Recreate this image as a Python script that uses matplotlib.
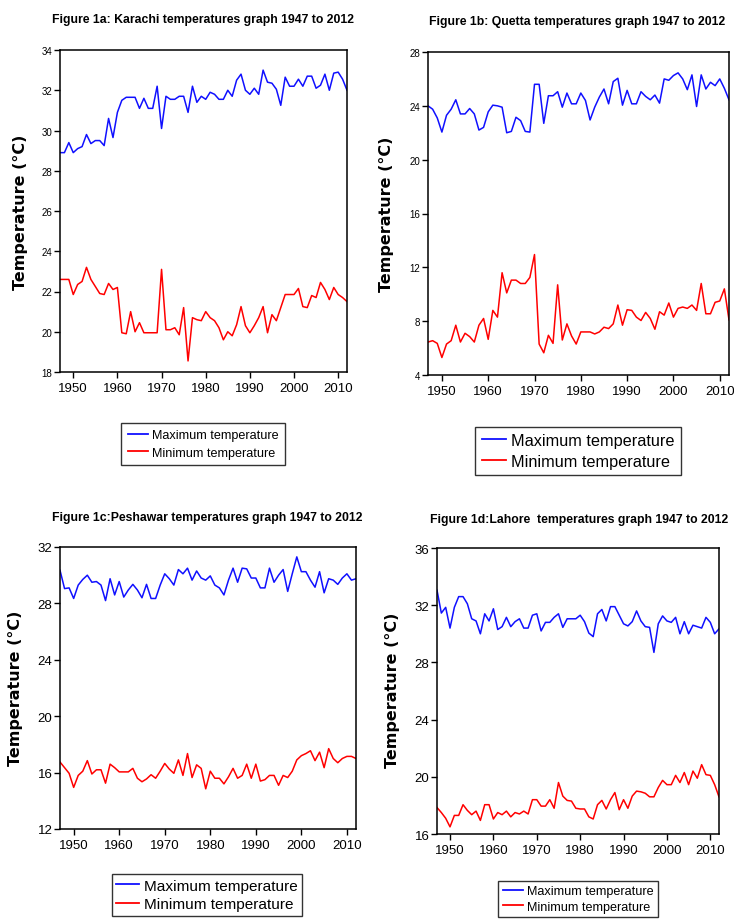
import matplotlib
matplotlib.use("Agg")
import matplotlib.pyplot as plt

plt.rcParams['font.family'] = ['Liberation Sans', 'DejaVu Sans']

anios = list(range(1947, 2013))

# Karachi
karachi_max = [28.9, 28.9, 29.4, 28.9, 29.1, 29.2, 29.8, 29.35, 29.5, 29.5,
               29.25, 30.6, 29.65, 30.9, 31.5, 31.65, 31.65, 31.65, 31.1, 31.6,
               31.1, 31.1, 32.2, 30.1, 31.7, 31.55, 31.55, 31.7, 31.7, 30.9,
               32.2, 31.4, 31.7, 31.55, 31.9, 31.8, 31.55, 31.55, 32.0, 31.7,
               32.5, 32.8, 32.0, 31.8, 32.1, 31.8, 33.0, 32.4, 32.35, 32.05,
               31.25, 32.65, 32.2, 32.2, 32.55, 32.2, 32.7, 32.7, 32.1, 32.25,
               32.8, 32.0, 32.85, 32.9, 32.55, 32.0]
karachi_min = [22.6, 22.6, 22.6, 21.85, 22.35, 22.5, 23.2, 22.6, 22.25, 21.9,
               21.85, 22.4, 22.1, 22.2, 19.95, 19.9, 21.0, 20.0, 20.45, 19.95,
               19.95, 19.95, 19.95, 23.1, 20.1, 20.1, 20.2, 19.85, 21.2, 18.55,
               20.7, 20.6, 20.55, 21.0, 20.7, 20.55, 20.2, 19.6, 20.0, 19.8,
               20.35, 21.25, 20.3, 19.95, 20.3, 20.7, 21.25, 19.95, 20.85, 20.55,
               21.2, 21.85, 21.85, 21.85, 22.15, 21.25, 21.2, 21.8, 21.7, 22.45,
               22.1, 21.6, 22.2, 21.85, 21.7, 21.5]

# Quetta
quetta_max = [24.0, 23.75, 23.1, 22.05, 23.3, 23.75, 24.45, 23.4, 23.4, 23.8,
              23.4, 22.2, 22.4, 23.55, 24.05, 24.0, 23.9, 22.0, 22.1, 23.15,
              22.9, 22.1, 22.05, 25.6, 25.6, 22.7, 24.75, 24.75, 25.05, 23.9,
              24.95, 24.15, 24.15, 24.95, 24.4, 22.95, 23.9, 24.65, 25.25, 24.15,
              25.8, 26.05, 24.05, 25.15, 24.15, 24.15, 25.05, 24.7, 24.45, 24.8,
              24.2, 26.0, 25.9, 26.25, 26.45, 26.0, 25.2, 26.3, 23.95, 26.3,
              25.25, 25.75, 25.5, 26.0, 25.3, 24.45]
quetta_min = [6.45, 6.55, 6.35, 5.3, 6.3, 6.55, 7.7, 6.45, 7.1, 6.85,
              6.45, 7.7, 8.2, 6.65, 8.8, 8.3, 11.6, 10.1, 11.05, 11.05,
              10.8, 10.8, 11.25, 12.95, 6.3, 5.65, 6.95, 6.35, 10.7, 6.6,
              7.8, 6.9, 6.3, 7.2, 7.2, 7.2, 7.05, 7.2, 7.55, 7.45,
              7.8, 9.2, 7.7, 8.85, 8.8, 8.3, 8.05, 8.65, 8.2, 7.4,
              8.7, 8.45, 9.35, 8.3, 8.95, 9.05, 8.95, 9.2, 8.8, 10.8,
              8.55, 8.55, 9.4, 9.5, 10.4, 8.1]

# Peshawar
peshawar_max = [30.35, 29.05, 29.1, 28.35, 29.3, 29.7, 30.0, 29.5, 29.55, 29.3,
                28.2, 29.75, 28.6, 29.55, 28.45, 28.95, 29.35, 28.95, 28.4, 29.35,
                28.35, 28.35, 29.3, 30.1, 29.75, 29.3, 30.4, 30.1, 30.5, 29.65,
                30.3, 29.8, 29.65, 29.95, 29.3, 29.1, 28.6, 29.65, 30.5, 29.5,
                30.5, 30.45, 29.8, 29.8, 29.1, 29.1, 30.5, 29.5, 30.0, 30.4,
                28.85, 30.1, 31.3, 30.25, 30.25, 29.65, 29.15, 30.25, 28.75, 29.75,
                29.65, 29.35, 29.8, 30.1, 29.65, 29.75]
peshawar_min = [16.75, 16.35, 15.95, 14.95, 15.8, 16.1, 16.85, 15.9, 16.2, 16.2,
                15.25, 16.6, 16.35, 16.05, 16.05, 16.05, 16.3, 15.6, 15.35, 15.55,
                15.85, 15.6, 16.1, 16.65, 16.25, 15.95, 16.9, 15.8, 17.35, 15.65,
                16.55, 16.3, 14.85, 16.1, 15.6, 15.6, 15.2, 15.7, 16.3, 15.6,
                15.8, 16.6, 15.6, 16.6, 15.4, 15.5, 15.8, 15.8, 15.1, 15.8,
                15.65, 16.1, 16.9, 17.2, 17.35, 17.55, 16.85, 17.45, 16.35, 17.7,
                17.0, 16.7, 17.0, 17.15, 17.15, 17.0]

# Lahore
lahore_max = [33.05, 31.45, 31.85, 30.4, 31.85, 32.6, 32.6, 32.1, 31.05, 30.9,
              30.0, 31.4, 30.9, 31.75, 30.3, 30.5, 31.15, 30.5, 30.85, 31.05,
              30.4, 30.4, 31.3, 31.4, 30.2, 30.8, 30.8, 31.15, 31.4, 30.45,
              31.05, 31.05, 31.05, 31.3, 30.85, 30.05, 29.8, 31.4, 31.7, 30.9,
              31.9, 31.9, 31.3, 30.7, 30.55, 30.85, 31.6, 30.9, 30.5, 30.45,
              28.7, 30.7, 31.25, 30.9, 30.8, 31.15, 30.0, 30.85, 30.0, 30.6,
              30.5, 30.4, 31.15, 30.8, 30.0, 30.35]
lahore_min = [17.85, 17.5, 17.1, 16.5, 17.3, 17.3, 18.05, 17.65, 17.35, 17.6,
              16.95, 18.05, 18.05, 17.05, 17.5, 17.35, 17.6, 17.2, 17.5, 17.4,
              17.6, 17.4, 18.4, 18.4, 17.95, 17.95, 18.4, 17.8, 19.6, 18.65,
              18.35, 18.3, 17.8, 17.75, 17.75, 17.2, 17.05, 18.05, 18.35, 17.75,
              18.4, 18.9, 17.7, 18.4, 17.8, 18.65, 19.0, 18.95, 18.85, 18.6,
              18.6, 19.25, 19.75, 19.45, 19.45, 20.1, 19.6, 20.3, 19.45, 20.4,
              19.9, 20.85, 20.15, 20.1, 19.45, 18.6]

ticks_x = [1950, 1960, 1970, 1980, 1990, 2000, 2010]
etiquetas = ["Maximum temperature", "Minimum temperature"]


def px(x0, y0, x1, y1):
    """Convierte una caja en pixeles a coordenadas de figura."""
    return [x0 / 734, 1 - y1 / 920, (x1 - x0) / 734, (y1 - y0) / 920]


def dibujar_panel(fig, caja, tmax, tmin, ylim, yticks, titulo, pos_titulo,
                  pos_ylabel, pos_leyenda, tam_ytick, leyenda):
    ax = fig.add_axes(px(*caja))
    l1, = ax.plot(anios, tmax, color='#1010ff', lw=1.1)
    l2, = ax.plot(anios, tmin, color='#ff0000', lw=1.1)
    ax.set_xlim(1947, 2012)
    ax.set_ylim(*ylim)
    ax.set_xticks(ticks_x)
    ax.set_yticks(yticks)
    ax.tick_params(axis='x', labelsize=9.5, length=4, width=1, pad=3)
    ax.tick_params(axis='y', labelsize=tam_ytick, length=4, width=1, pad=1.5)
    for s in ax.spines.values():
        s.set_linewidth(1.1)

    fig.text(pos_titulo[0] / 734, 1 - pos_titulo[1] / 920, titulo,
             ha='center', va='center', fontsize=8.8, fontweight='bold')
    fig.text(pos_ylabel[0] / 734, 1 - pos_ylabel[1] / 920, "Temperature (°C)",
             rotation=90, ha='center', va='center', fontsize=11.5,
             fontweight='bold', family='DejaVu Sans')

    # leyenda: tamano de letra, separacion entre lineas, margen, largo de linea
    tam, sep, margen, largo = leyenda
    leg = fig.legend([l1, l2], etiquetas, loc='center',
                     bbox_to_anchor=(pos_leyenda[0] / 734, 1 - pos_leyenda[1] / 920),
                     fontsize=tam, frameon=True, fancybox=False,
                     borderpad=margen, labelspacing=sep, handlelength=largo,
                     handletextpad=0.3, borderaxespad=0)
    leg.get_frame().set_edgecolor('black')
    leg.get_frame().set_linewidth(1.0)
    for h in leg.get_lines():
        h.set_linewidth(1.3)
    return ax


fig = plt.figure(figsize=(7.34, 9.2), dpi=100)

dibujar_panel(fig, (60, 51, 347, 373), karachi_max, karachi_min, (18, 34),
              range(18, 35, 2), "Figure 1a: Karachi temperatures graph 1947 to 2012",
              (203, 20), (21, 212), (203, 445), 7, (9.1, 0.45, 0.5, 1.6))

dibujar_panel(fig, (428, 53, 729, 376), quetta_max, quetta_min, (4, 28),
              range(4, 29, 4), "Figure 1b: Quetta temperatures graph 1947 to 2012",
              (577, 22), (386, 214), (578, 452), 7, (11.7, 0.35, 0.4, 1.5))

dibujar_panel(fig, (60, 548, 356, 830), peshawar_max, peshawar_min, (12, 32),
              range(12, 33, 4), "Figure 1c:Peshawar temperatures graph 1947 to 2012",
              (207, 518), (16, 688), (207, 896), 9.5, (11.1, 0.3, 0.3, 1.5))

dibujar_panel(fig, (437, 549, 719, 835), lahore_max, lahore_min, (16, 36),
              range(16, 37, 4), "Figure 1d:Lahore  temperatures graph 1947 to 2012",
              (579, 520), (393, 690), (578, 900), 9.5, (9.1, 0.3, 0.35, 1.6))

fig.savefig("out.png", dpi=100)
